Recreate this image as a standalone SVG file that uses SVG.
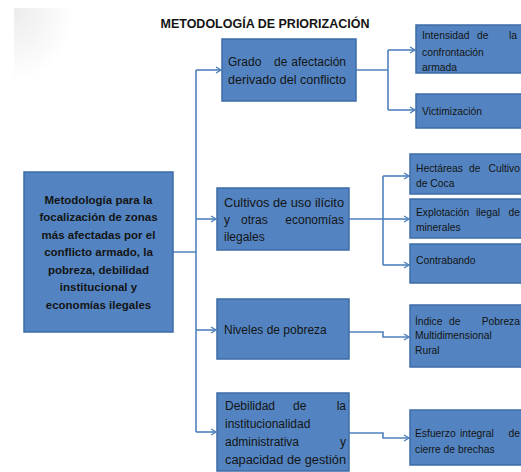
<svg xmlns="http://www.w3.org/2000/svg" width="521" height="472" viewBox="0 0 521 472">
<style>
.box{fill:#5384C1;stroke:#3D6CA6;stroke-width:1.5}
.t{font-family:"Liberation Sans",Arial,sans-serif;font-size:12px;fill:#141414}
.s{font-family:"Liberation Sans",Arial,sans-serif;font-size:10.3px;fill:#141414}
.b{font-family:"Liberation Sans",Arial,sans-serif;font-size:11.5px;font-weight:bold;fill:#141414;text-anchor:middle}
.title{font-family:"Liberation Sans",Arial,sans-serif;font-size:13px;font-weight:bold;fill:#141414;text-anchor:middle}
.c{fill:none;stroke:#4F81BD;stroke-width:1.6}
.a{marker-end:url(#arr)}
.e{text-anchor:end}
</style>
<defs>
<marker id="arr" markerUnits="userSpaceOnUse" markerWidth="8" markerHeight="8" refX="6" refY="4" orient="auto">
<path d="M1,1 L6,4 L1,7" fill="none" stroke="#4F81BD" stroke-width="1.4"/>
</marker>
<radialGradient id="bg" cx="0" cy="0" r="1">
<stop offset="0" stop-color="#ececec"/>
<stop offset="0.6" stop-color="#f7f7f7"/>
<stop offset="1" stop-color="#ffffff"/>
</radialGradient>
</defs>
<rect width="521" height="472" fill="#ffffff"/>
<rect x="14" y="8" width="60" height="74" fill="url(#bg)"/>
<text class="title" x="265" y="28" textLength="209" lengthAdjust="spacingAndGlyphs">METODOLOGÍA DE PRIORIZACIÓN</text>

<g id="connectors">
<path class="c" d="M173,252 H196 M196,70 V432"/>
<path class="c a" d="M196,70 H221"/>
<path class="c a" d="M196,219 H216"/>
<path class="c a" d="M196,330 H216"/>
<path class="c a" d="M196,432 H216"/>
<path class="c" d="M356,70 H388 M388,50 V110"/>
<path class="c a" d="M388,50 H415"/>
<path class="c a" d="M388,110 H415"/>
<path class="c" d="M349,219 H383 M383,176 V265"/>
<path class="c a" d="M383,176 H409"/>
<path class="c a" d="M383,219 H409"/>
<path class="c a" d="M383,265 H409"/>
<path class="c a" d="M349,332 H383 V337 H409"/>
<path class="c a" d="M349,433 H383 V438 H409"/>
</g>

<g id="main">
<rect class="box" x="24" y="172" width="149" height="160"/>
<text class="b" x="98.5" y="204">Metodología para la</text>
<text class="b" x="98.5" y="221">focalización de zonas</text>
<text class="b" x="98.5" y="239">más afectadas por el</text>
<text class="b" x="98.5" y="256">conflicto armado, la</text>
<text class="b" x="98.5" y="274">pobreza, debilidad</text>
<text class="b" x="98.5" y="291">institucional y</text>
<text class="b" x="98.5" y="309">economías ilegales</text>
</g>

<g id="grado">
<rect class="box" x="222" y="39" width="134" height="62"/>
<text class="t" x="228" y="66">Grado</text>
<text class="t" x="274" y="66">de</text>
<text class="t e" x="346" y="66">afectación</text>
<text class="t" x="228" y="84" textLength="118" lengthAdjust="spacingAndGlyphs">derivado del conflicto</text>
</g>

<g id="cultivos">
<rect class="box" x="217" y="188" width="132" height="62"/>
<text class="t" x="224" y="207" textLength="120" lengthAdjust="spacingAndGlyphs">Cultivos de uso ilícito</text>
<text class="t" x="224" y="224">y</text>
<text class="t" x="241" y="224">otras</text>
<text class="t e" x="344" y="224">economías</text>
<text class="t" x="224" y="241">ilegales</text>
</g>

<g id="pobreza">
<rect class="box" x="217" y="299" width="132" height="60"/>
<text class="t" x="224" y="334">Niveles de pobreza</text>
</g>

<g id="debilidad">
<rect class="box" x="217" y="393" width="132" height="78"/>
<text class="t" x="225" y="410">Debilidad</text>
<text class="t" x="293" y="410">de</text>
<text class="t e" x="346" y="410">la</text>
<text class="t" x="225" y="428">institucionalidad</text>
<text class="t" x="225" y="446">administrativa</text>
<text class="t e" x="346" y="446">y</text>
<text class="t" x="225" y="464" textLength="121" lengthAdjust="spacingAndGlyphs">capacidad de gestión</text>
</g>

<g id="intensidad">
<rect class="box" x="416" y="25" width="112" height="48"/>
<text class="s" x="422" y="39">Intensidad</text>
<text class="s" x="477" y="39">de</text>
<text class="s e" x="517" y="39">la</text>
<text class="s" x="422" y="56">confrontación</text>
<text class="s" x="422" y="71">armada</text>
</g>

<g id="victimizacion">
<rect class="box" x="416" y="94" width="112" height="34"/>
<text class="s" x="422" y="115">Victimización</text>
</g>

<g id="hectareas">
<rect class="box" x="410" y="154" width="118" height="40"/>
<text class="s" x="416" y="172">Hectáreas</text>
<text class="s" x="469" y="172">de</text>
<text class="s e" x="520" y="172">Cultivo</text>
<text class="s" x="416" y="187">de Coca</text>
</g>

<g id="explotacion">
<rect class="box" x="410" y="199" width="118" height="39"/>
<text class="s" x="416" y="216">Explotación</text>
<text class="s" x="476" y="216">ilegal</text>
<text class="s e" x="520" y="216">de</text>
<text class="s" x="416" y="231">minerales</text>
</g>

<g id="contrabando">
<rect class="box" x="410" y="244" width="118" height="39"/>
<text class="s" x="416" y="264">Contrabando</text>
</g>

<g id="indice">
<rect class="box" x="410" y="305" width="118" height="62"/>
<text class="s" x="415" y="325">Índice</text>
<text class="s" x="449" y="325">de</text>
<text class="s e" x="520" y="325">Pobreza</text>
<text class="s" x="415" y="339">Multidimensional</text>
<text class="s" x="415" y="354">Rural</text>
</g>

<g id="esfuerzo">
<rect class="box" x="410" y="410" width="118" height="55"/>
<text class="s" x="415" y="437">Esfuerzo</text>
<text class="s" x="460" y="437">integral</text>
<text class="s e" x="520" y="437">de</text>
<text class="s" x="415" y="453">cierre de brechas</text>
</g>
</svg>
